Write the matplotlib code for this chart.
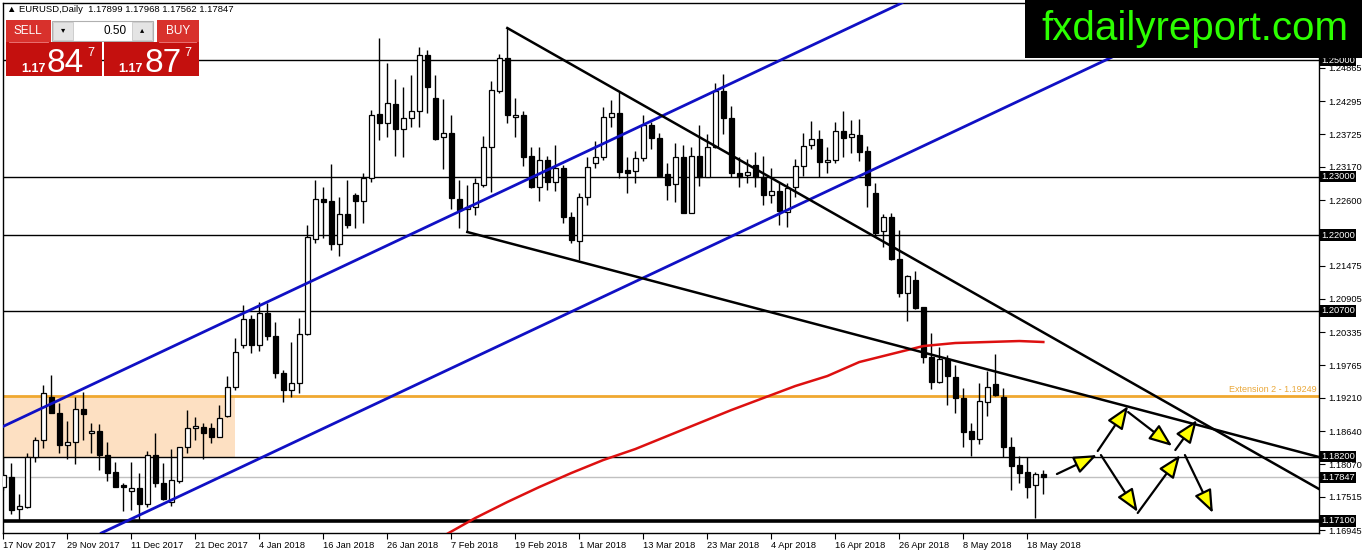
import numpy as np
import matplotlib
matplotlib.use("Agg")
import matplotlib.pyplot as plt
from matplotlib.patches import Rectangle, FancyArrowPatch

plt.rcParams['font.family'] = ['Liberation Sans', 'DejaVu Sans']

# EURUSD daily, bar 0 = 17 Nov 2017 ... bar 130 = last bar
op = [1.17682, 1.17853, 1.17305, 1.17339, 1.18196, 1.18487, 1.19224, 1.18950, 1.18402, 1.18453,
      1.19019, 1.18607, 1.18642, 1.18230, 1.17939, 1.17716, 1.17613, 1.17665, 1.17390, 1.18230,
      1.17750, 1.17425, 1.17785, 1.18367, 1.18693, 1.18710, 1.18693, 1.18539, 1.18899, 1.19396,
      1.20115, 1.20561, 1.20115, 1.20664, 1.20270, 1.19636, 1.19344, 1.19464, 1.20304, 1.21932,
      1.22618, 1.22583, 1.21846, 1.22360, 1.22686, 1.22583, 1.22977, 1.24074, 1.23920, 1.24246,
      1.23817, 1.24006, 1.24126, 1.25085, 1.24348, 1.23680, 1.23749, 1.22618, 1.22446, 1.22480,
      1.22857, 1.23509, 1.24468, 1.25034, 1.24023, 1.24057, 1.23354, 1.22823, 1.23286, 1.22909,
      1.23149, 1.22309, 1.21898, 1.22652, 1.23235, 1.23337, 1.24023, 1.24091, 1.23115, 1.23097,
      1.23320, 1.23886, 1.23663, 1.23046, 1.22875, 1.23337, 1.22378, 1.23354, 1.22995, 1.23509,
      1.24468, 1.24006, 1.23063, 1.23029, 1.23200, 1.22995, 1.22686, 1.22755, 1.22395, 1.22823,
      1.23183, 1.23543, 1.23646, 1.23252, 1.23286, 1.23783, 1.23680, 1.23714, 1.23440, 1.22720,
      1.22069, 1.22309, 1.21589, 1.21007, 1.21229, 1.20767, 1.19910, 1.19481, 1.19875, 1.19567,
      1.19207, 1.18642, 1.18504, 1.19139, 1.19447, 1.19224, 1.18367, 1.18059, 1.17939, 1.17716,
      1.17899]
hi = [1.18196, 1.18093, 1.17562, 1.18265, 1.18539, 1.19430, 1.19601, 1.19121, 1.18813, 1.19224,
      1.19310, 1.18779, 1.18762, 1.18453, 1.18110, 1.17750, 1.18110, 1.17922, 1.18299, 1.18607,
      1.18093, 1.18333, 1.18367, 1.19001, 1.18881, 1.18779, 1.18779, 1.19087, 1.19584, 1.20235,
      1.20801, 1.20630, 1.20852, 1.20835, 1.20510, 1.19687, 1.20167, 1.20578, 1.22172, 1.22943,
      1.22823, 1.23217, 1.22652, 1.22943, 1.22720, 1.23063, 1.24143, 1.25377, 1.24948, 1.24674,
      1.24537, 1.24743, 1.25223, 1.25171, 1.24743, 1.24331, 1.24057, 1.22943, 1.22857, 1.22977,
      1.23697, 1.24640, 1.25103, 1.25548, 1.24348, 1.24126, 1.23509, 1.23509, 1.23354, 1.23543,
      1.23200, 1.22395, 1.22720, 1.23337, 1.23612, 1.24194, 1.24314, 1.24451, 1.23337, 1.23440,
      1.24057, 1.23937, 1.23749, 1.23235, 1.23577, 1.23543, 1.23509, 1.23886, 1.23732, 1.24606,
      1.24760, 1.24211, 1.23337, 1.23303, 1.23423, 1.23354, 1.23149, 1.22892, 1.22892, 1.23303,
      1.23749, 1.23954, 1.23800, 1.23509, 1.23937, 1.24126, 1.23971, 1.23989, 1.23526, 1.22892,
      1.22360, 1.22378, 1.22086, 1.21315, 1.21384, 1.20767, 1.20321, 1.20081, 1.19944, 1.19773,
      1.19378, 1.18779, 1.19464, 1.19670, 1.19961, 1.19378, 1.18539, 1.18213, 1.18196, 1.17939,
      1.17968]
lo = [1.17630, 1.17219, 1.17116, 1.17322, 1.18110, 1.18350, 1.18950, 1.18265, 1.18162, 1.18076,
      1.18487, 1.18265, 1.17973, 1.17785, 1.17682, 1.17270, 1.17288, 1.17116, 1.17339, 1.17682,
      1.17459, 1.17356, 1.17750, 1.18265, 1.18487, 1.18162, 1.18436, 1.18539, 1.18881, 1.19344,
      1.20064, 1.19978, 1.20013, 1.20201, 1.19550, 1.19139, 1.19224, 1.19293, 1.20287, 1.21863,
      1.21949, 1.21743, 1.21641, 1.22121, 1.22121, 1.22206, 1.22909, 1.23629, 1.23680, 1.23354,
      1.23337, 1.23851, 1.23851, 1.24091, 1.23629, 1.23132, 1.22446, 1.22121, 1.22052, 1.22343,
      1.22823, 1.22738, 1.24434, 1.23920, 1.23680, 1.23183, 1.22806, 1.22583, 1.22772, 1.22755,
      1.22206, 1.21863, 1.21572, 1.22515, 1.23149, 1.23286, 1.23851, 1.22977, 1.22720, 1.22892,
      1.23269, 1.23474, 1.22995, 1.22600, 1.22566, 1.22378, 1.22378, 1.22840, 1.22995, 1.23492,
      1.23732, 1.22995, 1.22823, 1.22892, 1.22823, 1.22515, 1.22549, 1.22172, 1.22138, 1.22652,
      1.23012, 1.23474, 1.22995, 1.23063, 1.23235, 1.23337, 1.23406, 1.23269, 1.22480, 1.21966,
      1.21795, 1.21572, 1.20938, 1.20527, 1.20732, 1.19807, 1.19361, 1.19464, 1.19087, 1.18950,
      1.18367, 1.18213, 1.18419, 1.18899, 1.19241, 1.18196, 1.17630, 1.17750, 1.17493, 1.17151,
      1.17562]
cl = [1.17887, 1.17288, 1.17356, 1.18196, 1.18487, 1.19293, 1.18950, 1.18402, 1.18453, 1.19019,
      1.18933, 1.18642, 1.18230, 1.17922, 1.17682, 1.17682, 1.17665, 1.17390, 1.18230, 1.17750,
      1.17476, 1.17802, 1.18367, 1.18693, 1.18727, 1.18607, 1.18539, 1.18864, 1.19396, 1.19995,
      1.20561, 1.20115, 1.20664, 1.20270, 1.19636, 1.19344, 1.19464, 1.20304, 1.21966, 1.22618,
      1.22566, 1.21846, 1.22360, 1.22172, 1.22583, 1.22977, 1.24057, 1.23920, 1.24263, 1.23817,
      1.24006, 1.24126, 1.25085, 1.24537, 1.23646, 1.23749, 1.22635, 1.22429, 1.22480, 1.22892,
      1.23509, 1.24486, 1.25034, 1.24057, 1.24057, 1.23337, 1.22823, 1.23286, 1.22909, 1.23149,
      1.22309, 1.21915, 1.22652, 1.23166, 1.23337, 1.24023, 1.24091, 1.23080, 1.23063, 1.23320,
      1.23886, 1.23663, 1.23012, 1.22857, 1.23337, 1.22378, 1.23354, 1.22995, 1.23509, 1.24468,
      1.24006, 1.23063, 1.22995, 1.23080, 1.22995, 1.22686, 1.22755, 1.22412, 1.22806, 1.23183,
      1.23526, 1.23646, 1.23252, 1.23286, 1.23783, 1.23663, 1.23732, 1.23423, 1.22857, 1.22035,
      1.22309, 1.21589, 1.21007, 1.21298, 1.20749, 1.19910, 1.19481, 1.19875, 1.19584, 1.19207,
      1.18624, 1.18504, 1.19156, 1.19396, 1.19258, 1.18367, 1.18042, 1.17922, 1.17682, 1.17905,
      1.17847]

date_labels = ['17 Nov 2017', '29 Nov 2017', '11 Dec 2017', '21 Dec 2017', '4 Jan 2018',
               '16 Jan 2018', '26 Jan 2018', '7 Feb 2018', '19 Feb 2018', '1 Mar 2018',
               '13 Mar 2018', '23 Mar 2018', '4 Apr 2018', '16 Apr 2018', '26 Apr 2018',
               '8 May 2018', '18 May 2018']
price_ticks = [1.24865, 1.24295, 1.23725, 1.23170, 1.22600, 1.21475, 1.20905,
               1.20335, 1.19765, 1.19210, 1.18640, 1.18070, 1.17515, 1.16945]
levels = [1.25000, 1.23000, 1.22000, 1.20700, 1.18200, 1.17100]
last_price = 1.17847
ext_level = 1.19249

# 200-day MA (red), read every few bars
ma_bars = [55, 59, 63, 67, 71, 75, 79, 83, 87, 91, 95, 99, 103, 107, 111, 115, 119, 123, 127, 130]
ma_vals = [1.16842, 1.17151, 1.17425, 1.17682, 1.17922, 1.18145, 1.18333, 1.18556, 1.18779, 1.19001,
           1.19207, 1.19413, 1.19584, 1.19824, 1.19961, 1.20098, 1.20150, 1.20167, 1.20184, 1.20167]

# drawn objects: channel / trend lines as (bar, price) pairs
blue_upper = [(0, 1.18722), (100, 1.25182)]
blue_lower = [(20, 1.17394), (120, 1.23850)]
trend_down = [(63, 1.25548), (164.46, 1.17648)]
trend_low = [(58, 1.22052), (164.46, 1.18196)]
zone = (-0.5, 29, 1.18200, 1.19249)  # bar0, bar1, low, high

# projected path arrows (bar, price) -> (bar, price)
arrows = [((131.7, 1.17905), (136.7, 1.18230)),
          ((136.8, 1.18299), (140.6, 1.19070)),
          ((140.6, 1.18967), (146.1, 1.18385)),
          ((146.5, 1.18316), (149.2, 1.18830)),
          ((137.2, 1.18230), (141.8, 1.17254)),
          ((141.8, 1.17237), (147.1, 1.18230)),
          ((147.7, 1.18230), (151.2, 1.17237))]

W, H = 1362, 554
fig = plt.figure(figsize=(W / 100, H / 100), dpi=100)
fig.patch.set_facecolor('white')
ax = fig.add_axes([3 / W, 21 / H, 1316 / W, 530 / H])
ax.set_xlim(-0.04, 164.46)
ax.set_ylim(1.16894, 1.25977)

ax.add_patch(Rectangle((zone[0], zone[2]), zone[1] - zone[0], zone[3] - zone[2],
                       facecolor='#fde0c2', edgecolor='none', zorder=0))
for lv in levels:
    ax.axhline(lv, color='black', lw=2.6 if lv == 1.171 else 1.0, zorder=1)
ax.axhline(last_price, color='#c0c0c0', lw=1.0, zorder=1)
ax.axhline(ext_level, color='#f0a830', lw=2.0, zorder=1)
ax.text(0.998, ext_level + 0.0003, 'Extension 2 - 1.19249', transform=ax.get_yaxis_transform(),
        ha='right', va='bottom', fontsize=6.5, color='#eaa83a')

x = np.arange(len(op))
o = np.array(op); c = np.array(cl)
ax.vlines(x, lo, hi, color='black', lw=1.0, zorder=2)
up = c >= o
bot = np.minimum(o, c)
hgt = np.maximum(np.abs(c - o), 0.00004)
ax.bar(x[up], hgt[up], bottom=bot[up], width=0.6, color='white', edgecolor='black', lw=0.9, zorder=3)
ax.bar(x[~up], hgt[~up], bottom=bot[~up], width=0.6, color='black', edgecolor='black', lw=0.9, zorder=3)

ax.plot(ma_bars, ma_vals, color='#dd1010', lw=1.8, zorder=4)

ax.axline(*blue_upper, color='#1010c4', lw=2.0, zorder=5)
ax.axline(*blue_lower, color='#1010c4', lw=2.0, zorder=5)
ax.plot(*zip(*trend_down), color='black', lw=1.8, zorder=5)
ax.plot(*zip(*trend_low), color='black', lw=1.8, zorder=5)

for a, b in arrows:
    ax.add_patch(FancyArrowPatch(a, b, arrowstyle='-|>,head_length=1.4,head_width=0.55',
                                 mutation_scale=10, fc='#ffff00', ec='black', lw=1.6,
                                 shrinkA=0, shrinkB=0, zorder=6))

# axes styling
for s in ax.spines.values():
    s.set_color('black'); s.set_linewidth(1.0)
ax.yaxis.tick_right()
ax.set_yticks(price_ticks)
ax.set_yticklabels([f'{v:.5f}' for v in price_ticks])
ax.set_xticks(np.arange(0, 8 * len(date_labels), 8))
ax.set_xticklabels(date_labels, ha='left')
ax.tick_params(axis='y', length=4, width=0.8, labelsize=6.7, pad=3)
ax.tick_params(axis='x', length=4, width=0.8, labelsize=6.7, pad=2)
for lv in levels + [last_price]:
    ax.text(1.0015, lv, f'{lv:.5f}', transform=ax.get_yaxis_transform(), ha='left', va='center',
            fontsize=6.7, color='white', clip_on=False, zorder=7,
            bbox=dict(boxstyle='square,pad=0.12', fc='black', ec='none'))

# overlay in pixel space for the trading panel and the site banner
ov = fig.add_axes([0, 0, 1, 1])
ov.set_xlim(0, W); ov.set_ylim(H, 0); ov.axis('off'); ov.set_zorder(10)

ov.add_patch(Rectangle((1025, 0), W - 1025, 58, fc='black', ec='none'))
ov.text(1195, 29, 'fxdailyreport.com', color='#2cff00', fontsize=29, ha='center', va='center')

ov.text(7, 10, '\u25b2 EURUSD,Daily  1.17899 1.17968 1.17562 1.17847', fontsize=6.8,
        va='center', ha='left', color='black')
red_top = '#d8312c'
red_low = '#c4100e'
ov.add_patch(Rectangle((6, 20), 45, 22, fc=red_top, ec='none'))
ov.add_patch(Rectangle((157, 20), 42, 22, fc=red_top, ec='none'))
ov.add_patch(Rectangle((52, 21), 101, 20, fc='white', ec='#b0b0b0', lw=0.8))
ov.add_patch(Rectangle((53, 22), 20, 18, fc='#e4e4e4', ec='#c8c8c8', lw=0.6))
ov.add_patch(Rectangle((132, 22), 20, 18, fc='#e4e4e4', ec='#c8c8c8', lw=0.6))
ov.text(63, 31, '\u25be', fontsize=6, ha='center', va='center', color='black')
ov.text(142, 31, '\u25b4', fontsize=6, ha='center', va='center', color='black')
ov.text(127, 31, '0.50', fontsize=8.5, ha='right', va='center', color='black')
ov.text(28, 31, 'SELL', fontsize=8.5, ha='center', va='center', color='white')
ov.text(178, 31, 'BUY', fontsize=8.5, ha='center', va='center', color='white')
ov.add_patch(Rectangle((6, 42), 96, 34, fc=red_low, ec='none'))
ov.add_patch(Rectangle((104, 42), 95, 34, fc=red_low, ec='none'))
ov.plot([9, 48], [42, 42], color='#f08080', lw=0.6)
ov.plot([159, 196], [42, 42], color='#f08080', lw=0.6)
for x0, big in ((21, '84'), (118, '87')):
    ov.text(x0, 72, '1.17', fontsize=9, fontweight='bold', color='white', ha='left', va='baseline')
    ov.text(x0 + 26, 72, big, fontsize=24, color='white', ha='left', va='baseline')
    ov.text(x0 + 66, 53, '7', fontsize=9, color='white', ha='left', va='center')

fig.savefig('out.png', dpi=100)
